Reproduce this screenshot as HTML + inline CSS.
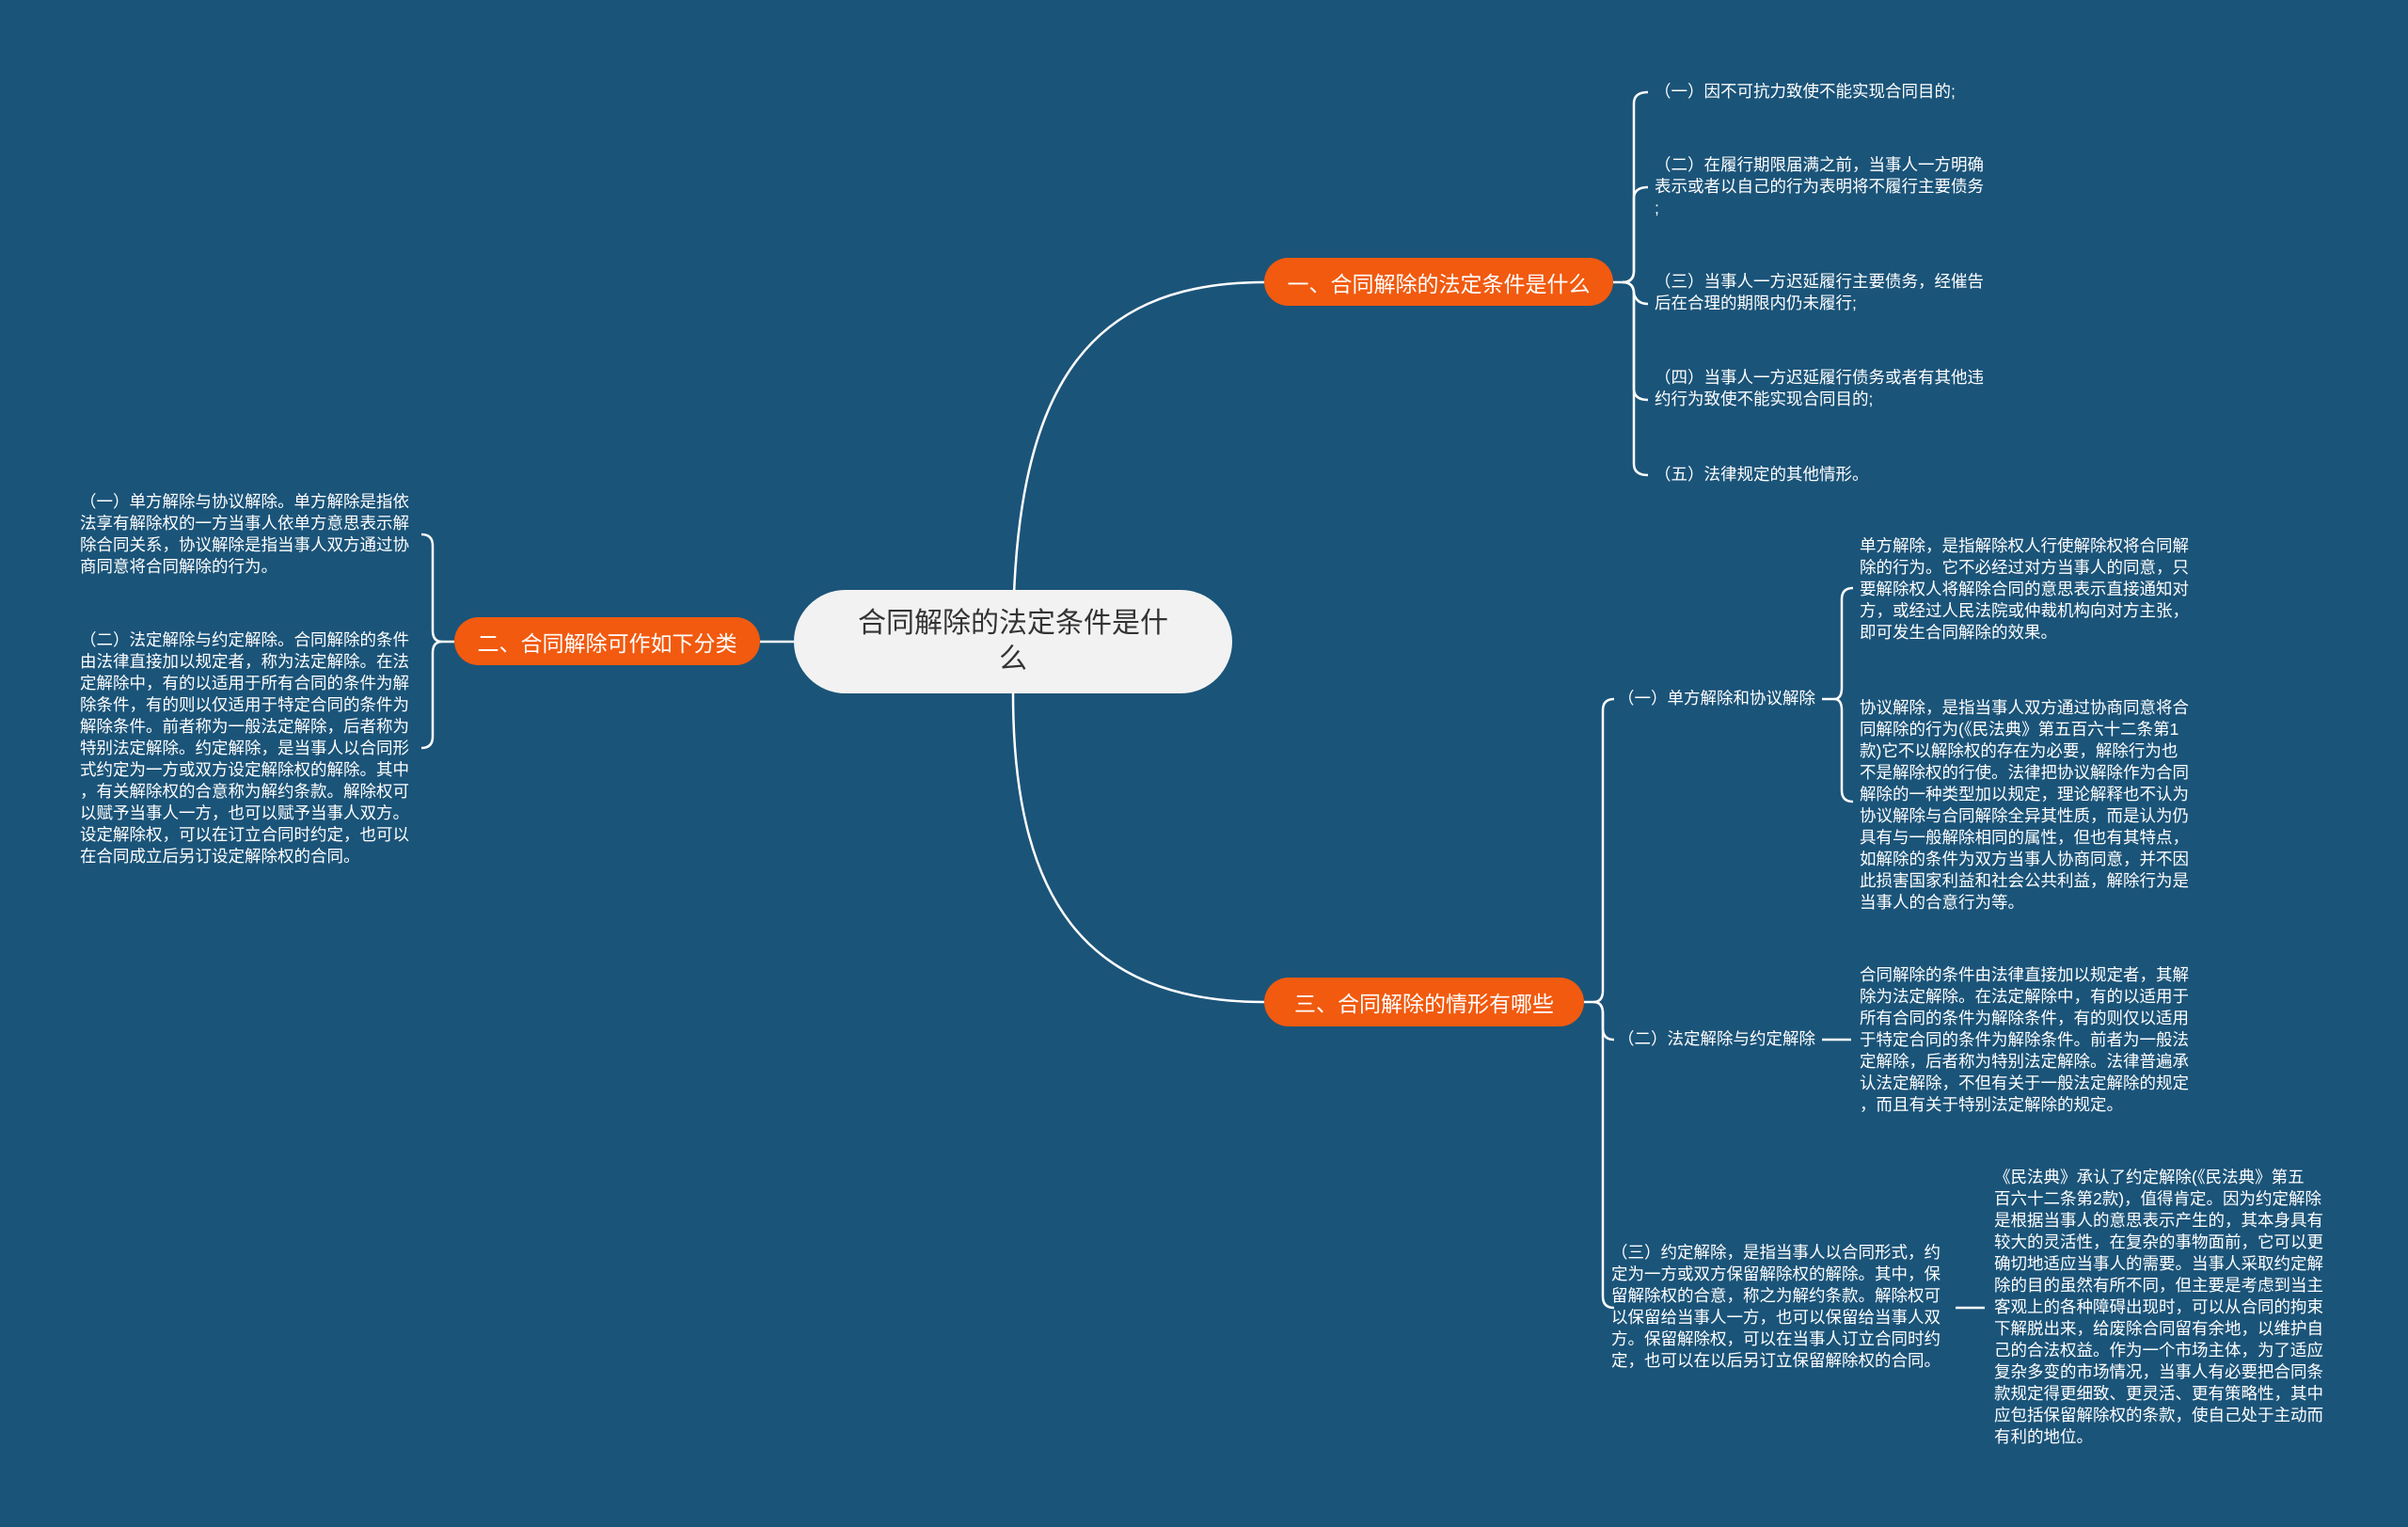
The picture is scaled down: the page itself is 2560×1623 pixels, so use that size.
<!DOCTYPE html>
<html><head><meta charset="utf-8"><style>
body{margin:0;width:2560px;height:1623px;background:#1b5479;position:relative;overflow:hidden;font-family:"Liberation Sans","Noto Sans CJK SC",sans-serif}
.t{position:absolute;color:#fff;font-size:17.5px;line-height:23px;white-space:nowrap}
.b{position:absolute;background:#f15a0f;color:#fff;font-size:23px;border-radius:26px;display:flex;align-items:center;justify-content:center}
svg{position:absolute;left:0;top:0}
</style></head><body>
<svg width="2560" height="1623" fill="none" stroke="#fff" stroke-width="2.5">
<path d="M1077,682 C1077,420 1150,300 1344,300"/>
<path d="M1077,737 C1077,950 1150,1065 1344,1065"/>
<path d="M844,682 L808,682"/>
<path d="M1715,300 L1725,300"/>
<path d="M1725,300 Q1737,300 1737,288 L1737,110 Q1737,98 1752,98"/>
<path d="M1725,300 Q1737,300 1737,288 L1737,211 Q1737,199 1752,199"/>
<path d="M1725,300 Q1737,300 1737,312 Q1740,323 1752,323"/>
<path d="M1725,300 Q1737,300 1737,312 L1737,413 Q1737,425 1752,425"/>
<path d="M1725,300 Q1737,300 1737,312 L1737,493 Q1737,505 1752,505"/>
<path d="M483,682 L470,682"/>
<path d="M470,682 Q460,682 460,670 L460,580 Q460,568 448,568"/>
<path d="M470,682 Q460,682 460,694 L460,783 Q460,795 448,795"/>
<path d="M1684,1065 L1694,1065"/>
<path d="M1694,1065 Q1704,1065 1704,1053 L1704,755 Q1704,743 1716,743"/>
<path d="M1694,1065 Q1704,1065 1704,1077 L1704,1093 Q1704,1105 1716,1105"/>
<path d="M1694,1065 Q1704,1065 1704,1077 L1704,1378 Q1704,1390 1716,1390"/>
<path d="M1937,743 L1950,743"/>
<path d="M1950,743 Q1958,743 1958,731 L1958,637 Q1958,625 1970,625"/>
<path d="M1950,743 Q1958,743 1958,755 L1958,840 Q1958,852 1970,852"/>
<path d="M1937,1105 L1968,1105"/>
<path d="M2079,1390 L2110,1390"/>
</svg>
<div style="position:absolute;left:844px;top:627px;width:466px;height:110px;border-radius:55px;background:#f2f2f2;color:#333;font-size:30px;line-height:38px;text-align:center;display:flex;align-items:center;justify-content:center">合同解除的法定条件是什<br>么</div>
<div class="b" style="left:1344px;top:274px;width:371px;height:51px">一、合同解除的法定条件是什么</div>
<div class="b" style="left:483px;top:656px;width:325px;height:51px">二、合同解除可作如下分类</div>
<div class="b" style="left:1344px;top:1039px;width:340px;height:52px">三、合同解除的情形有哪些</div>

<div class="t" style="left:1759px;top:86px">（一）因不可抗力致使不能实现合同目的;</div>
<div class="t" style="left:1759px;top:164px">（二）在履行期限届满之前，当事人一方明确<br>表示或者以自己的行为表明将不履行主要债务<br>;</div>
<div class="t" style="left:1759px;top:288px">（三）当事人一方迟延履行主要债务，经催告<br>后在合理的期限内仍未履行;</div>
<div class="t" style="left:1759px;top:390px">（四）当事人一方迟延履行债务或者有其他违<br>约行为致使不能实现合同目的;</div>
<div class="t" style="left:1759px;top:493px">（五）法律规定的其他情形。</div>

<div class="t" style="left:85px;top:522px">（一）单方解除与协议解除。单方解除是指依<br>法享有解除权的一方当事人依单方意思表示解<br>除合同关系，协议解除是指当事人双方通过协<br>商同意将合同解除的行为。</div>
<div class="t" style="left:85px;top:669px">（二）法定解除与约定解除。合同解除的条件<br>由法律直接加以规定者，称为法定解除。在法<br>定解除中，有的以适用于所有合同的条件为解<br>除条件，有的则以仅适用于特定合同的条件为<br>解除条件。前者称为一般法定解除，后者称为<br>特别法定解除。约定解除，是当事人以合同形<br>式约定为一方或双方设定解除权的解除。其中<br>，有关解除权的合意称为解约条款。解除权可<br>以赋予当事人一方，也可以赋予当事人双方。<br>设定解除权，可以在订立合同时约定，也可以<br>在合同成立后另订设定解除权的合同。</div>

<div class="t" style="left:1720px;top:731px">（一）单方解除和协议解除</div>
<div class="t" style="left:1977px;top:569px">单方解除，是指解除权人行使解除权将合同解<br>除的行为。它不必经过对方当事人的同意，只<br>要解除权人将解除合同的意思表示直接通知对<br>方，或经过人民法院或仲裁机构向对方主张，<br>即可发生合同解除的效果。</div>
<div class="t" style="left:1977px;top:741px">协议解除，是指当事人双方通过协商同意将合<br>同解除的行为(《民法典》第五百六十二条第1<br>款)它不以解除权的存在为必要，解除行为也<br>不是解除权的行使。法律把协议解除作为合同<br>解除的一种类型加以规定，理论解释也不认为<br>协议解除与合同解除全异其性质，而是认为仍<br>具有与一般解除相同的属性，但也有其特点，<br>如解除的条件为双方当事人协商同意，并不因<br>此损害国家利益和社会公共利益，解除行为是<br>当事人的合意行为等。</div>

<div class="t" style="left:1720px;top:1093px">（二）法定解除与约定解除</div>
<div class="t" style="left:1977px;top:1025px">合同解除的条件由法律直接加以规定者，其解<br>除为法定解除。在法定解除中，有的以适用于<br>所有合同的条件为解除条件，有的则仅以适用<br>于特定合同的条件为解除条件。前者为一般法<br>定解除，后者称为特别法定解除。法律普遍承<br>认法定解除，不但有关于一般法定解除的规定<br>，而且有关于特别法定解除的规定。</div>

<div class="t" style="left:1713px;top:1320px">（三）约定解除，是指当事人以合同形式，约<br>定为一方或双方保留解除权的解除。其中，保<br>留解除权的合意，称之为解约条款。解除权可<br>以保留给当事人一方，也可以保留给当事人双<br>方。保留解除权，可以在当事人订立合同时约<br>定，也可以在以后另订立保留解除权的合同。</div>
<div class="t" style="left:2120px;top:1240px">《民法典》承认了约定解除(《民法典》第五<br>百六十二条第2款)，值得肯定。因为约定解除<br>是根据当事人的意思表示产生的，其本身具有<br>较大的灵活性，在复杂的事物面前，它可以更<br>确切地适应当事人的需要。当事人采取约定解<br>除的目的虽然有所不同，但主要是考虑到当主<br>客观上的各种障碍出现时，可以从合同的拘束<br>下解脱出来，给废除合同留有余地，以维护自<br>己的合法权益。作为一个市场主体，为了适应<br>复杂多变的市场情况，当事人有必要把合同条<br>款规定得更细致、更灵活、更有策略性，其中<br>应包括保留解除权的条款，使自己处于主动而<br>有利的地位。</div>
</body></html>
